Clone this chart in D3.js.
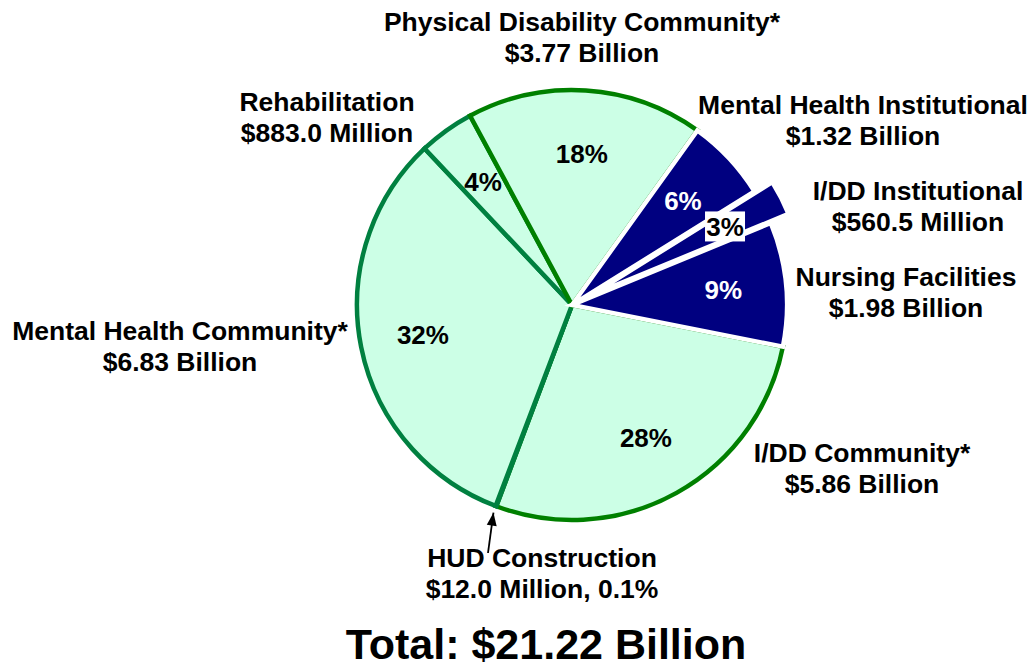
<!DOCTYPE html>
<html><head><meta charset="utf-8">
<script src="https://cdn.jsdelivr.net/npm/d3@7/dist/d3.min.js"></script>
<style>body{margin:0;background:#fff}svg{display:block}text{font-family:"Liberation Sans",Arial,sans-serif;font-weight:bold}</style>
</head><body><svg id="c" width="1034" height="667"></svg>
<script>
// data (clockwise from the top-left)
const categories = ["Physical Disability Community*","Mental Health Institutional","I/DD Institutional","Nursing Facilities","I/DD Community*","HUD Construction","Mental Health Community*","Rehabilitation"];
const values = [3.77, 1.32, 0.5605, 1.98, 5.86, 0.012, 6.83, 0.883]; // $ billions
const amountLabels = ["$3.77 Billion","$1.32 Billion","$560.5 Million","$1.98 Billion","$5.86 Billion","$12.0 Million, 0.1%","$6.83 Billion","$883.0 Million"];
const pctLabels = ["18%","6%","3%","9%","28%","","32%","4%"];
const totalLabel = "Total: $21.22 Billion";

// styling
const fills   = ["#CCFFE6","#000080","#000080","#000080","#CCFFE6","#CCFFE6","#CCFFE6","#CCFFE6"];
const strokes = ["#008000","#ffffff","#ffffff","#ffffff","#008000","#008040","#008040","#008040"];
const explode = [0,0,20,0,0,0,0,0];
const drawOrder = [4,5,6,7,0,1,3,2];
const labelPos = [[582,21],[863,104],[918,190],[906,276],[862,452],[542,557],[180,330],[327,101]];

const svg = d3.select("#c");
const cx = 572, cy = 305, R = 215;
const a0 = -28.3 * Math.PI / 180;
const pie = d3.pie().sort(null).value(d => d).startAngle(a0).endAngle(a0 + 2 * Math.PI);
const arcs = pie(values);
const arc = d3.arc().innerRadius(0).outerRadius(R);
const g = svg.append("g").attr("transform", `translate(${cx},${cy})`);

function off(d, i) {
  const m = (d.startAngle + d.endAngle) / 2;
  return [Math.sin(m) * explode[i], -Math.cos(m) * explode[i]];
}

drawOrder.forEach(i => {
  const d = arcs[i];
  const o = off(d, i);
  g.append("path").attr("d", arc(d))
    .attr("transform", `translate(${o[0]},${o[1]})`)
    .attr("fill", fills[i]).attr("stroke", strokes[i])
    .attr("stroke-width", 4.5)
    .attr("stroke-linejoin", "miter");
});

// percentage labels
const lblArc = d3.arc().innerRadius(152).outerRadius(152);
arcs.forEach((d, i) => {
  if (!pctLabels[i]) return;
  const o = off(d, i);
  const c = lblArc.centroid(d);
  const x = c[0] + o[0], y = c[1] + o[1];
  const navy = fills[i] === "#000080";
  if (explode[i] > 0) {
    g.append("rect").attr("x", x - 20).attr("y", y - 15).attr("width", 40).attr("height", 30).attr("fill", "#fff");
  }
  g.append("text").attr("x", x).attr("y", y).attr("dy", "0.36em")
    .attr("text-anchor", "middle").attr("font-size", 26)
    .attr("fill", navy && explode[i] === 0 ? "#fff" : "#000")
    .text(pctLabels[i]);
});

// category labels
categories.forEach((c, i) => {
  const [x, y] = labelPos[i];
  const t = svg.append("text").attr("x", x).attr("y", y).attr("dy", "0.36em")
    .attr("text-anchor", "middle").attr("font-size", 26.5).attr("fill", "#000");
  t.append("tspan").attr("x", x).text(c);
  t.append("tspan").attr("x", x).attr("dy", 31).text(amountLabels[i]);
});

// HUD arrow
const hud = arcs[5];
const hm = (hud.startAngle + hud.endAngle) / 2;
const tip = [cx + Math.sin(hm) * (R + 7), cy - Math.cos(hm) * (R + 7)];
svg.append("line").attr("x1", 488).attr("y1", 553).attr("x2", tip[0]).attr("y2", tip[1])
  .attr("stroke", "#000").attr("stroke-width", 1.8);
svg.append("path")
  .attr("d", (() => {
    const ang = Math.atan2(tip[1] - 553, tip[0] - 488);
    const L = 13, W = 5;
    const bx = tip[0] - Math.cos(ang) * L, by = tip[1] - Math.sin(ang) * L;
    const px = -Math.sin(ang) * W, py = Math.cos(ang) * W;
    return `M${tip[0]},${tip[1]}L${bx + px},${by + py}L${bx - px},${by - py}Z`;
  })()).attr("fill", "#000");

svg.append("text").attr("x", 546).attr("y", 644).attr("dy", "0.36em")
  .attr("text-anchor", "middle").attr("font-size", 43).text(totalLabel);
</script></body></html>
